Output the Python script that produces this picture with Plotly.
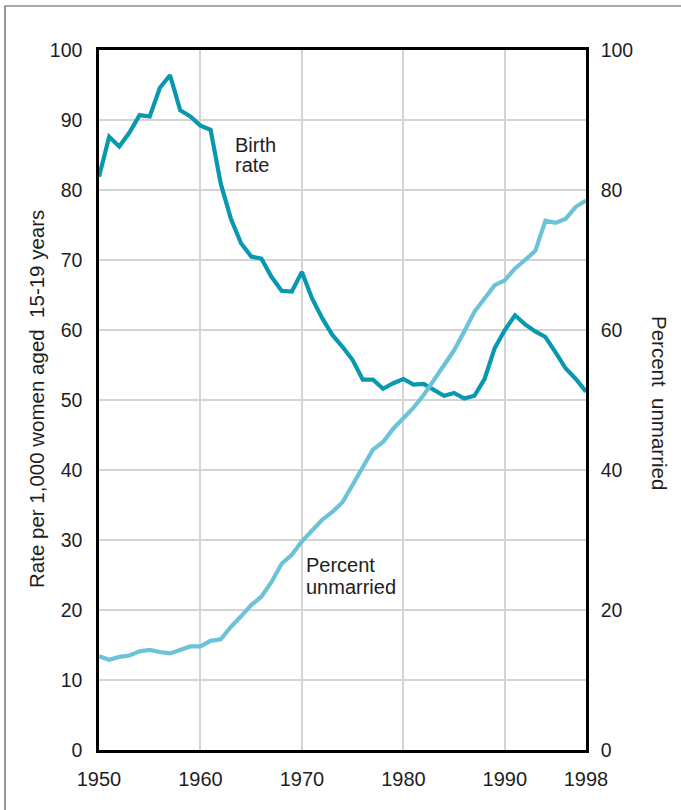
import plotly.graph_objects as go

years = list(range(1950, 1999))
birth_rate = [81.9, 87.6, 86.2, 88.2, 90.7, 90.5, 94.6, 96.4, 91.4, 90.5,
              89.2, 88.6, 80.9, 75.9, 72.4, 70.5, 70.2, 67.6, 65.6, 65.5,
              68.3, 64.5, 61.7, 59.3, 57.6, 55.7, 52.9, 52.9, 51.6, 52.4,
              53.0, 52.2, 52.3, 51.4, 50.6, 51.0, 50.2, 50.6, 53.0, 57.4,
              60.0, 62.1, 60.8, 59.8, 59.0, 56.8, 54.5, 53.0, 51.2]
pct_unmarried = [13.4, 12.9, 13.3, 13.5, 14.1, 14.3, 14.0, 13.8, 14.3, 14.8,
                 14.8, 15.6, 15.8, 17.6, 19.1, 20.7, 21.9, 24.0, 26.6, 27.9,
                 29.8, 31.4, 32.9, 34.0, 35.4, 37.9, 40.4, 42.9, 44.0, 45.9,
                 47.4, 48.9, 50.7, 52.9, 55.0, 57.1, 59.8, 62.6, 64.5, 66.4,
                 67.1, 68.8, 70.0, 71.3, 75.6, 75.3, 75.9, 77.6, 78.5]
x_ticks = [1950, 1960, 1970, 1980, 1990, 1998]
y_ticks = [0, 10, 20, 30, 40, 50, 60, 70, 80, 90, 100]
y2_ticks = [0, 20, 40, 60, 80, 100]

FONT = "Liberation Sans, Arial, Helvetica, sans-serif"
TXT = "#1e1e1e"
GRID = "#d4d4d4"

fig = go.Figure()
fig.add_trace(go.Scatter(x=years, y=pct_unmarried, mode="lines", yaxis="y2",
                         line=dict(color="#6cc3d7", width=4.2), showlegend=False,
                         name="Percent unmarried"))
fig.add_trace(go.Scatter(x=years, y=birth_rate, mode="lines",
                         line=dict(color="#0899b0", width=4.2), showlegend=False,
                         name="Birth rate"))

fig.update_layout(
    width=681, height=810,
    margin=dict(l=99, r=95, t=50, b=60),
    paper_bgcolor="white", plot_bgcolor="white",
    font=dict(family=FONT, size=19, color=TXT),
    xaxis=dict(range=[1950, 1998], tickvals=x_ticks, showgrid=True,
               gridcolor=GRID, gridwidth=2, showline=True, linecolor="black",
               linewidth=2.5, mirror=True, ticks="", zeroline=False,
               ticklabelstandoff=9,
               tickfont=dict(size=20, family=FONT, color=TXT)),
    yaxis=dict(range=[0, 100], tickvals=y_ticks, showgrid=True,
               gridcolor=GRID, gridwidth=2, showline=True, linecolor="black",
               linewidth=2.5, ticks="", zeroline=False, ticklabelstandoff=10,
               tickfont=dict(size=19.5, family=FONT, color=TXT)),
    yaxis2=dict(range=[0, 100], tickvals=y2_ticks, overlaying="y", side="right",
                showgrid=False, showline=True, linecolor="black", linewidth=2.5,
                ticks="", zeroline=False, ticklabelstandoff=8,
                tickfont=dict(size=19.5, family=FONT, color=TXT)),
)

title_font = dict(size=20.5, family=FONT, color=TXT)
fig.add_annotation(x=(36 - 99) / 487, y=(750 - 399) / 700, xref="paper", yref="paper",
                   xanchor="center", yanchor="middle",
                   text="Rate per 1,000 women aged  15-19 years", textangle=-90,
                   showarrow=False, font=title_font)
fig.add_annotation(x=(659 - 99) / 487, y=(750 - 403) / 700, xref="paper", yref="paper",
                   xanchor="center", yanchor="middle",
                   text="Percent  unmarried", textangle=90,
                   showarrow=False, font=title_font)
label_font = dict(size=20, family=FONT, color=TXT)
fig.add_annotation(x=1963.2, y=86.4, xref="x", yref="y", xanchor="left", yanchor="middle",
                   text="Birth", showarrow=False, font=label_font)
fig.add_annotation(x=1963.2, y=83.6, xref="x", yref="y", xanchor="left", yanchor="middle",
                   text="rate", showarrow=False, font=label_font)
fig.add_annotation(x=1970.2, y=26.5, xref="x", yref="y", xanchor="left", yanchor="middle",
                   text="Percent", showarrow=False, font=label_font)
fig.add_annotation(x=1970.2, y=23.3, xref="x", yref="y", xanchor="left", yanchor="middle",
                   text="unmarried", showarrow=False, font=label_font)

fig.add_shape(type="rect", xref="paper", yref="paper",
              x0=(5 - 99) / 487, x1=1.5, y0=-0.5, y1=(750 - 6) / 700,
              line=dict(color="#555555", width=1.2), fillcolor="rgba(0,0,0,0)",
              layer="below")

fig.write_html("out.html", config={"displayModeBar": False},
               post_script="document.body.style.margin='0px';document.body.style.overflow='hidden';")
